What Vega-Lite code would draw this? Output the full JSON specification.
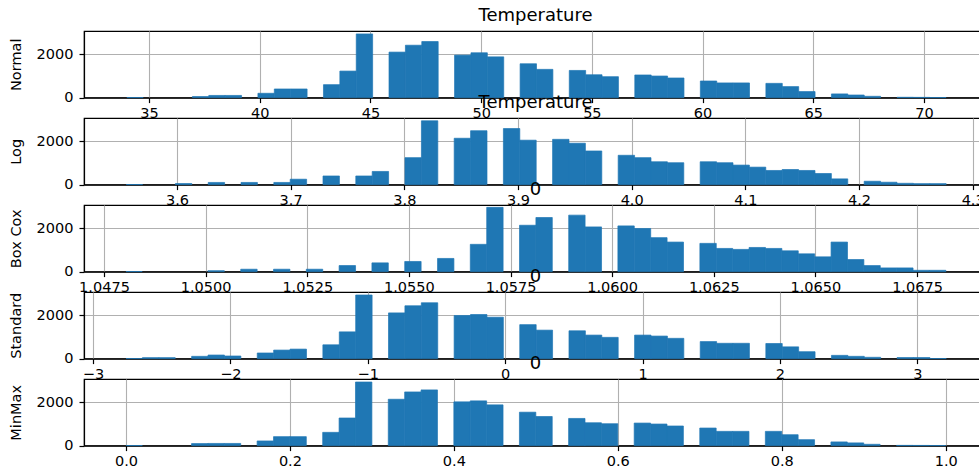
{
"$schema": "https://vega.github.io/schema/vega-lite/v6.json",
"padding": {"left": 7, "top": 6, "right": 0, "bottom": 4},
"bounds": "flush",
"spacing": 20,
"config": {
  "font": "DejaVu Sans",
  "view": {"stroke": "black", "strokeWidth": 1.2, "fill": "white"},
  "axis": {
    "labelFont": "DejaVu Sans", "labelFontSize": 14.5, "labelColor": "black",
    "titleFont": "DejaVu Sans", "titleFontSize": 14.5, "titleFontWeight": "normal", "titleColor": "black",
    "tickColor": "black", "tickSize": 5, "tickWidth": 1.2,
    "domainColor": "black", "domainWidth": 1.2,
    "gridColor": "#b0b0b0", "gridWidth": 1.1, "gridOpacity": 1,
    "labelFlush": false, "labelOverlap": false, "zindex": 1
  },
  "axisX": {"labelPadding": 4},
  "axisY": {"labelPadding": 6, "titlePadding": 13},
  "title": {"fontSize": 18, "fontWeight": "normal", "font": "DejaVu Sans", "color": "black", "anchor": "middle", "offset": 6}
},
"datasets": {
  "normal": [
    {"start": 34, "end": 34.74, "count": 3},
    {"start": 36.96, "end": 37.7, "count": 50},
    {"start": 37.7, "end": 38.44, "count": 100},
    {"start": 38.44, "end": 39.18, "count": 100},
    {"start": 39.92, "end": 40.66, "count": 200},
    {"start": 40.66, "end": 41.4, "count": 400},
    {"start": 41.4, "end": 42.14, "count": 400},
    {"start": 42.88, "end": 43.62, "count": 600},
    {"start": 43.62, "end": 44.36, "count": 1230},
    {"start": 44.36, "end": 45.1, "count": 2955},
    {"start": 45.84, "end": 46.58, "count": 2110},
    {"start": 46.58, "end": 47.32, "count": 2430},
    {"start": 47.32, "end": 48.06, "count": 2600},
    {"start": 48.8, "end": 49.54, "count": 1970},
    {"start": 49.54, "end": 50.28, "count": 2080},
    {"start": 50.28, "end": 51.02, "count": 1890},
    {"start": 51.76, "end": 52.5, "count": 1570},
    {"start": 52.5, "end": 53.24, "count": 1310},
    {"start": 53.98, "end": 54.72, "count": 1260},
    {"start": 54.72, "end": 55.46, "count": 1060},
    {"start": 55.46, "end": 56.2, "count": 970},
    {"start": 56.94, "end": 57.68, "count": 1050},
    {"start": 57.68, "end": 58.42, "count": 1000},
    {"start": 58.42, "end": 59.16, "count": 910},
    {"start": 59.9, "end": 60.64, "count": 770},
    {"start": 60.64, "end": 61.38, "count": 680},
    {"start": 61.38, "end": 62.12, "count": 680},
    {"start": 62.86, "end": 63.6, "count": 660},
    {"start": 63.6, "end": 64.34, "count": 510},
    {"start": 64.34, "end": 65.08, "count": 280},
    {"start": 65.82, "end": 66.56, "count": 170},
    {"start": 66.56, "end": 67.3, "count": 120},
    {"start": 67.3, "end": 68.04, "count": 60},
    {"start": 68.78, "end": 69.52, "count": 15},
    {"start": 69.52, "end": 70.26, "count": 10},
    {"start": 70.26, "end": 71, "count": 3}
  ],
  "log": [
    {"start": 3.55535, "end": 3.56978, "count": 3},
    {"start": 3.59863, "end": 3.61306, "count": 50},
    {"start": 3.62748, "end": 3.64191, "count": 100},
    {"start": 3.65634, "end": 3.67076, "count": 100},
    {"start": 3.68519, "end": 3.69961, "count": 100},
    {"start": 3.69961, "end": 3.71404, "count": 250},
    {"start": 3.72847, "end": 3.74289, "count": 400},
    {"start": 3.75732, "end": 3.77175, "count": 400},
    {"start": 3.77175, "end": 3.78617, "count": 610},
    {"start": 3.8006, "end": 3.81503, "count": 1250},
    {"start": 3.81503, "end": 3.82945, "count": 2960},
    {"start": 3.84388, "end": 3.8583, "count": 2150},
    {"start": 3.8583, "end": 3.87273, "count": 2500},
    {"start": 3.88716, "end": 3.90158, "count": 2600},
    {"start": 3.90158, "end": 3.91601, "count": 2060},
    {"start": 3.93044, "end": 3.94486, "count": 2100},
    {"start": 3.94486, "end": 3.95929, "count": 1920},
    {"start": 3.95929, "end": 3.97372, "count": 1560},
    {"start": 3.98814, "end": 4.00257, "count": 1360},
    {"start": 4.00257, "end": 4.017, "count": 1250},
    {"start": 4.017, "end": 4.03142, "count": 1060},
    {"start": 4.03142, "end": 4.04585, "count": 1015},
    {"start": 4.06027, "end": 4.0747, "count": 1060},
    {"start": 4.0747, "end": 4.08913, "count": 1015},
    {"start": 4.08913, "end": 4.10355, "count": 905},
    {"start": 4.10355, "end": 4.11798, "count": 810},
    {"start": 4.11798, "end": 4.13241, "count": 655},
    {"start": 4.13241, "end": 4.14683, "count": 700},
    {"start": 4.14683, "end": 4.16126, "count": 655},
    {"start": 4.16126, "end": 4.17569, "count": 515},
    {"start": 4.17569, "end": 4.19011, "count": 265},
    {"start": 4.20454, "end": 4.21896, "count": 155},
    {"start": 4.21896, "end": 4.23339, "count": 110},
    {"start": 4.23339, "end": 4.24782, "count": 60},
    {"start": 4.24782, "end": 4.26224, "count": 45},
    {"start": 4.26224, "end": 4.27667, "count": 45}
  ],
  "boxcox": [
    {"start": 1.04804, "end": 1.04844, "count": 3},
    {"start": 1.050057, "end": 1.05046, "count": 45},
    {"start": 1.050864, "end": 1.051267, "count": 110},
    {"start": 1.051671, "end": 1.052074, "count": 110},
    {"start": 1.052477, "end": 1.052881, "count": 110},
    {"start": 1.053284, "end": 1.053688, "count": 280},
    {"start": 1.054091, "end": 1.054494, "count": 405},
    {"start": 1.054898, "end": 1.055301, "count": 470},
    {"start": 1.055705, "end": 1.056108, "count": 610},
    {"start": 1.056511, "end": 1.056915, "count": 1265},
    {"start": 1.056915, "end": 1.057318, "count": 2980},
    {"start": 1.057722, "end": 1.058125, "count": 2150},
    {"start": 1.058125, "end": 1.058528, "count": 2510},
    {"start": 1.058932, "end": 1.059335, "count": 2620},
    {"start": 1.059335, "end": 1.059739, "count": 2075},
    {"start": 1.060142, "end": 1.060545, "count": 2120},
    {"start": 1.060545, "end": 1.060949, "count": 2000},
    {"start": 1.060949, "end": 1.061352, "count": 1575},
    {"start": 1.061352, "end": 1.061756, "count": 1370},
    {"start": 1.062159, "end": 1.062562, "count": 1310},
    {"start": 1.062562, "end": 1.062966, "count": 1075},
    {"start": 1.062966, "end": 1.063369, "count": 1030},
    {"start": 1.063369, "end": 1.063773, "count": 1120},
    {"start": 1.063773, "end": 1.064176, "count": 1075},
    {"start": 1.064176, "end": 1.064579, "count": 965},
    {"start": 1.064579, "end": 1.064983, "count": 825},
    {"start": 1.064983, "end": 1.065386, "count": 685},
    {"start": 1.065386, "end": 1.06579, "count": 1370},
    {"start": 1.06579, "end": 1.066193, "count": 560},
    {"start": 1.066193, "end": 1.066596, "count": 280},
    {"start": 1.066596, "end": 1.067, "count": 170},
    {"start": 1.067, "end": 1.067403, "count": 170},
    {"start": 1.067403, "end": 1.067807, "count": 60},
    {"start": 1.067807, "end": 1.06821, "count": 60}
  ],
  "standard": [
    {"start": -2.7597, "end": -2.64028, "count": 3},
    {"start": -2.64028, "end": -2.52086, "count": 45},
    {"start": -2.52086, "end": -2.40144, "count": 45},
    {"start": -2.28202, "end": -2.1626, "count": 105},
    {"start": -2.1626, "end": -2.04318, "count": 165},
    {"start": -2.04318, "end": -1.92376, "count": 120},
    {"start": -1.80434, "end": -1.68492, "count": 260},
    {"start": -1.68492, "end": -1.5655, "count": 395},
    {"start": -1.5655, "end": -1.44608, "count": 440},
    {"start": -1.32666, "end": -1.20724, "count": 640},
    {"start": -1.20724, "end": -1.08782, "count": 1240},
    {"start": -1.08782, "end": -0.9684, "count": 2950},
    {"start": -0.84898, "end": -0.72956, "count": 2120},
    {"start": -0.72956, "end": -0.61014, "count": 2450},
    {"start": -0.61014, "end": -0.49072, "count": 2590},
    {"start": -0.3713, "end": -0.25188, "count": 2000},
    {"start": -0.25188, "end": -0.13246, "count": 2045},
    {"start": -0.13246, "end": -0.01304, "count": 1920},
    {"start": 0.10638, "end": 0.2258, "count": 1575},
    {"start": 0.2258, "end": 0.34522, "count": 1320},
    {"start": 0.46464, "end": 0.58406, "count": 1290},
    {"start": 0.58406, "end": 0.70348, "count": 1090},
    {"start": 0.70348, "end": 0.8229, "count": 985},
    {"start": 0.94232, "end": 1.06174, "count": 1090},
    {"start": 1.06174, "end": 1.18116, "count": 1045},
    {"start": 1.18116, "end": 1.30058, "count": 940},
    {"start": 1.42, "end": 1.53942, "count": 790},
    {"start": 1.53942, "end": 1.65884, "count": 710},
    {"start": 1.65884, "end": 1.77826, "count": 710},
    {"start": 1.89768, "end": 2.0171, "count": 700},
    {"start": 2.0171, "end": 2.13652, "count": 545},
    {"start": 2.13652, "end": 2.25594, "count": 320},
    {"start": 2.37536, "end": 2.49478, "count": 150},
    {"start": 2.49478, "end": 2.6142, "count": 105},
    {"start": 2.6142, "end": 2.73362, "count": 60},
    {"start": 2.85304, "end": 2.97246, "count": 50},
    {"start": 2.97246, "end": 3.09188, "count": 50},
    {"start": 3.09188, "end": 3.2113, "count": 3}
  ],
  "minmax": [
    {"start": 0, "end": 0.02, "count": 3},
    {"start": 0.08, "end": 0.1, "count": 95},
    {"start": 0.1, "end": 0.12, "count": 100},
    {"start": 0.12, "end": 0.14, "count": 100},
    {"start": 0.16, "end": 0.18, "count": 215},
    {"start": 0.18, "end": 0.2, "count": 415},
    {"start": 0.2, "end": 0.22, "count": 415},
    {"start": 0.24, "end": 0.26, "count": 615},
    {"start": 0.26, "end": 0.28, "count": 1280},
    {"start": 0.28, "end": 0.3, "count": 2950},
    {"start": 0.32, "end": 0.34, "count": 2150},
    {"start": 0.34, "end": 0.36, "count": 2490},
    {"start": 0.36, "end": 0.38, "count": 2585},
    {"start": 0.4, "end": 0.42, "count": 2030},
    {"start": 0.42, "end": 0.44, "count": 2075},
    {"start": 0.44, "end": 0.46, "count": 1890},
    {"start": 0.48, "end": 0.5, "count": 1550},
    {"start": 0.5, "end": 0.52, "count": 1350},
    {"start": 0.54, "end": 0.56, "count": 1260},
    {"start": 0.56, "end": 0.58, "count": 1060},
    {"start": 0.58, "end": 0.6, "count": 1015},
    {"start": 0.62, "end": 0.64, "count": 1045},
    {"start": 0.64, "end": 0.66, "count": 1000},
    {"start": 0.66, "end": 0.68, "count": 910},
    {"start": 0.7, "end": 0.72, "count": 815},
    {"start": 0.72, "end": 0.74, "count": 660},
    {"start": 0.74, "end": 0.76, "count": 660},
    {"start": 0.78, "end": 0.8, "count": 660},
    {"start": 0.8, "end": 0.82, "count": 505},
    {"start": 0.82, "end": 0.84, "count": 275},
    {"start": 0.86, "end": 0.88, "count": 170},
    {"start": 0.88, "end": 0.9, "count": 125},
    {"start": 0.9, "end": 0.92, "count": 60},
    {"start": 0.94, "end": 0.96, "count": 10},
    {"start": 0.96, "end": 0.98, "count": 8},
    {"start": 0.98, "end": 1.0, "count": 3}
  ]
},
"vconcat": [
  {
    "width": 903, "height": 66.6,
    "title": "Temperature",
    "data": {"name": "normal"},
    "mark": {"type": "bar", "color": "#1f77b4", "stroke": "#1f77b4", "strokeWidth": 0.7},
    "encoding": {
      "x": {"field": "start", "type": "quantitative", "scale": {"domain": [32.065, 72.845], "nice": false, "zero": false},
            "axis": {"values": [35, 40, 45, 50, 55, 60, 65, 70], "format": "d", "title": null}},
      "x2": {"field": "end"},
      "y": {"field": "count", "type": "quantitative", "scale": {"domain": [0, 3090]},
            "axis": {"values": [0, 2000], "format": "d", "title": "Normal"}},
      "y2": {"datum": 0}
    }
  },
  {
    "width": 903, "height": 66.6,
    "title": "Temperature",
    "data": {"name": "log"},
    "mark": {"type": "bar", "color": "#1f77b4", "stroke": "#1f77b4", "strokeWidth": 0.7},
    "encoding": {
      "x": {"field": "start", "type": "quantitative", "scale": {"domain": [3.5182, 4.3126], "nice": false, "zero": false},
            "axis": {"values": [3.6, 3.7, 3.8, 3.9, 4.0, 4.1, 4.2, 4.3], "format": ".1f", "title": null}},
      "x2": {"field": "end"},
      "y": {"field": "count", "type": "quantitative", "scale": {"domain": [0, 3090]},
            "axis": {"values": [0, 2000], "format": "d", "title": "Log"}},
      "y2": {"datum": 0}
    }
  },
  {
    "width": 903, "height": 66.6,
    "title": "0",
    "data": {"name": "boxcox"},
    "mark": {"type": "bar", "color": "#1f77b4", "stroke": "#1f77b4", "strokeWidth": 0.7},
    "encoding": {
      "x": {"field": "start", "type": "quantitative", "scale": {"domain": [1.047008, 1.069222], "nice": false, "zero": false},
            "axis": {"values": [1.0475, 1.05, 1.0525, 1.055, 1.0575, 1.06, 1.0625, 1.065, 1.0675], "format": ".4f", "title": null}},
      "x2": {"field": "end"},
      "y": {"field": "count", "type": "quantitative", "scale": {"domain": [0, 3090]},
            "axis": {"values": [0, 2000], "format": "d", "title": "Box Cox"}},
      "y2": {"datum": 0}
    }
  },
  {
    "width": 903, "height": 66.6,
    "title": "0",
    "data": {"name": "standard"},
    "mark": {"type": "bar", "color": "#1f77b4", "stroke": "#1f77b4", "strokeWidth": 0.7},
    "encoding": {
      "x": {"field": "start", "type": "quantitative", "scale": {"domain": [-3.0655, 3.5075], "nice": false, "zero": false},
            "axis": {"values": [-3, -2, -1, 0, 1, 2, 3], "format": "d", "title": null}},
      "x2": {"field": "end"},
      "y": {"field": "count", "type": "quantitative", "scale": {"domain": [0, 3090]},
            "axis": {"values": [0, 2000], "format": "d", "title": "Standard"}},
      "y2": {"datum": 0}
    }
  },
  {
    "width": 903, "height": 66.6,
    "title": "0",
    "data": {"name": "minmax"},
    "mark": {"type": "bar", "color": "#1f77b4", "stroke": "#1f77b4", "strokeWidth": 0.7},
    "encoding": {
      "x": {"field": "start", "type": "quantitative", "scale": {"domain": [-0.0512, 1.0504], "nice": false, "zero": false},
            "axis": {"values": [0, 0.2, 0.4, 0.6, 0.8, 1.0], "format": ".1f", "title": null}},
      "x2": {"field": "end"},
      "y": {"field": "count", "type": "quantitative", "scale": {"domain": [0, 3090]},
            "axis": {"values": [0, 2000], "format": "d", "title": "MinMax"}},
      "y2": {"datum": 0}
    }
  }
]
}
